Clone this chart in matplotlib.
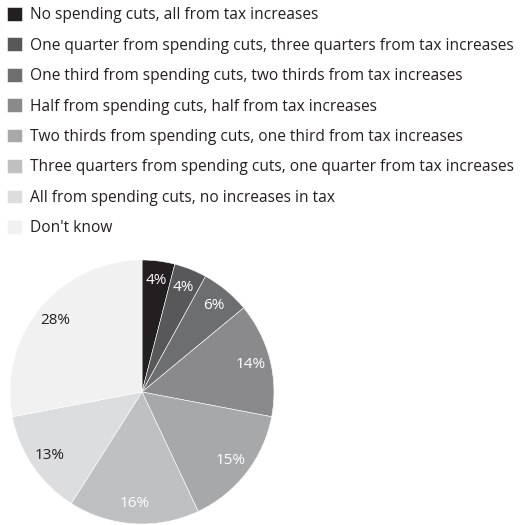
import matplotlib
matplotlib.use("Agg")
import matplotlib.pyplot as plt

plt.rcParams['font.family'] = ['Open Sans', 'DejaVu Sans']

categories = [
    "No spending cuts, all from tax increases",
    "One quarter from spending cuts, three quarters from tax increases",
    "One third from spending cuts, two thirds from tax increases",
    "Half from spending cuts, half from tax increases",
    "Two thirds from spending cuts, one third from tax increases",
    "Three quarters from spending cuts, one quarter from tax increases",
    "All from spending cuts, no increases in tax",
    "Don't know",
]
shares = [4, 4, 6, 14, 15, 16, 13, 28]
colors = ["#231f20", "#58585a", "#6d6e70", "#8a8a8c",
          "#a7a8aa", "#bfc0c2", "#dcdddf", "#f1f1f1"]
label_colors = ["white"] * 6 + ["#231f20"] * 2

W, H = 520, 525
fig = plt.figure(figsize=(W / 100, H / 100), dpi=100)

cx, cy, r = 142, 392, 132
ax = fig.add_axes([(cx - r) / W, (H - cy - r) / H, 2 * r / W, 2 * r / H])
wedges, texts = ax.pie(
    shares, colors=colors, startangle=90, counterclock=False,
    labels=[f"{v}%" for v in shares], labeldistance=0.85,
    wedgeprops=dict(edgecolor="white", linewidth=0.4),
    textprops=dict(fontsize=11),
)
for t, c in zip(texts, label_colors):
    t.set_color(c)
    t.set_ha("center")
    t.set_va("center")
ax.set_xlim(-1, 1)
ax.set_ylim(-1, 1)
ax.set_aspect("equal")

fs = 11.2
fig.legend(
    wedges, categories, loc="upper left",
    bbox_to_anchor=(0.0, 1.0), frameon=False,
    fontsize=fs, handlelength=0.97, handleheight=0.97,
    handletextpad=0.5, labelspacing=0.92, borderpad=0.25, borderaxespad=0.2,
    labelcolor="#231f20",
)

fig.savefig("out.png", dpi=100)
